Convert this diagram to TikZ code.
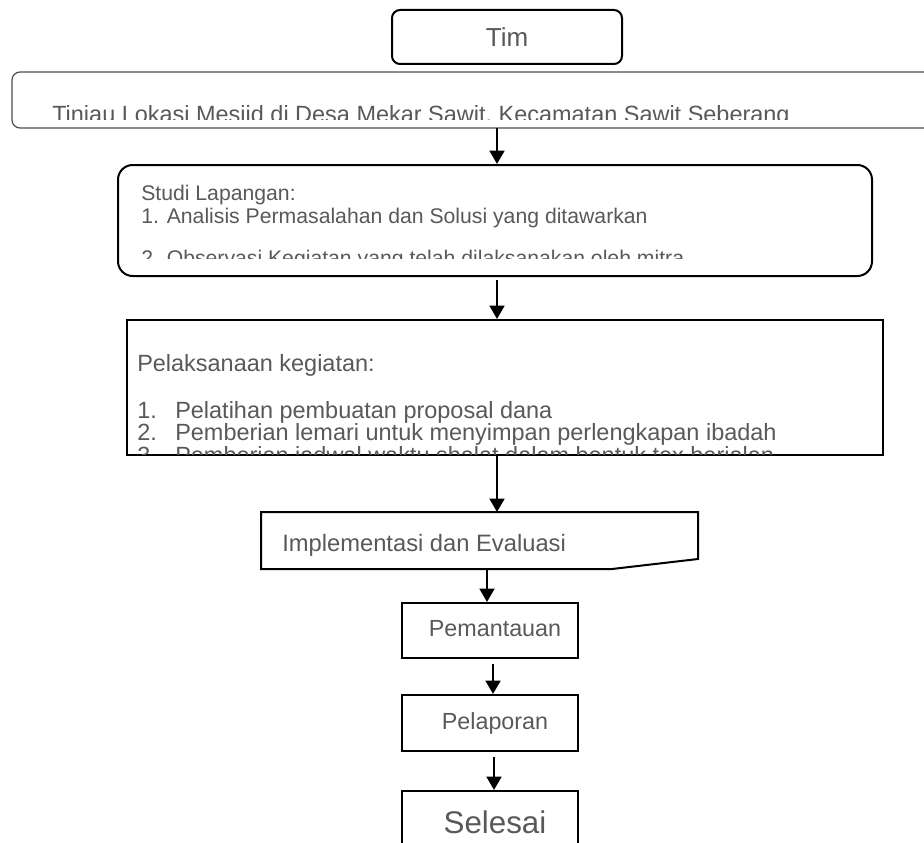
\documentclass[tikz,border=0pt]{standalone}
\usepackage{fontspec}
\setmainfont{Liberation Sans}
\usetikzlibrary{arrows.meta}
\definecolor{txt}{RGB}{89,89,89}
\tikzset{
  box/.style={draw=black, line width=1.5pt, inner sep=0pt, fill=none},
  thinbox/.style={draw=black!70, line width=0.9pt, inner sep=0pt},
  lbl/.style={text=txt, inner sep=0pt, anchor=base west},
  clbl/.style={text=txt, inner sep=0pt, anchor=base},
  arr/.style={line width=2pt, -{Triangle[width=11pt,length=10pt]}},
}
\newcommand{\fs}[1]{\fontsize{#1}{#1}\selectfont}
\begin{document}
\begin{tikzpicture}[x=0.75pt,y=-0.75pt]
\clip (0,0) rectangle (924,842);
\fill[white] (0,0) rectangle (924,842);
% Tim
\node[box, rounded corners=6pt, minimum width=172.5pt, minimum height=40.5pt, text=txt, font=\fs{19.5pt}] (tim) at (507,37) {Tim};
% Tinjau
\node[thinbox, rounded corners=6pt, minimum width=703.5pt, minimum height=42pt] (tinjau) at (481,100) {};
\begin{scope}
\clip (20,80) rectangle (920,119.5);
\node[lbl, font=\fs{17.6pt}] (tinjautxt) at (52,122.5) {Tinjau Lokasi Mesjid di Desa Mekar Sawit, Kecamatan Sawit Seberang};
\end{scope}
% Studi
\node[box, rounded corners=11pt, minimum width=565.5pt, minimum height=83.25pt] (studi) at (495,220.5) {};
\begin{scope}
\clip (125,170) rectangle (865,258);
\node[lbl, font=\fs{15.9pt}] (s0) at (141,200.7) {Studi Lapangan:};
\node[lbl, font=\fs{15.9pt}] (s1) at (141,223) {1. Analisis Permasalahan dan Solusi yang ditawarkan};
\node[lbl, font=\fs{15.9pt}] (s2) at (141,265.5) {2. Observasi Kegiatan yang telah dilaksanakan oleh mitra};
\end{scope}
% Pelaksanaan
\node[box, minimum width=567pt, minimum height=101.25pt] (pel) at (505,387.5) {};
\begin{scope}
\clip (130,325) rectangle (880,454);
\node[lbl, font=\fs{17.6pt}] (p0) at (137,371) {Pelaksanaan kegiatan:};
\node[lbl, font=\fs{17.6pt}] (p1n) at (137,418) {1.};
\node[lbl, font=\fs{17.6pt}] (p1) at (175,418) {Pelatihan pembuatan proposal dana};
\node[lbl, font=\fs{17.6pt}] (p2n) at (137,440.5) {2.};
\node[lbl, font=\fs{17.6pt}] (p2) at (175,440.5) {Pemberian lemari untuk menyimpan perlengkapan ibadah};
\node[lbl, font=\fs{17.6pt}] (p3n) at (137,463) {3.};
\node[lbl, font=\fs{17.6pt}] (p3) at (175,463) {Pemberian jadwal waktu shalat dalam bentuk tex berjalan};
\end{scope}
% Implementasi
\draw[line width=1.5pt] (261,512) -- (698,512) -- (698,559) -- (612,569) -- (261,569) -- cycle;
\coordinate (impN) at (497,512);
\coordinate (impS) at (487,569);
\node[lbl, font=\fs{17.8pt}] (imp) at (282,551.5) {Implementasi dan Evaluasi};
% Pemantauan, Pelaporan, Selesai
\node[box, minimum width=132pt, minimum height=41.25pt] (pem) at (490,630.5) {};
\node[clbl, font=\fs{17.5pt}] (pemtxt) at (495,636) {Pemantauan};
\node[box, minimum width=132pt, minimum height=42pt] (lap) at (490,723) {};
\node[clbl, font=\fs{17.5pt}] (laptxt) at (495,729) {Pelaporan};
\node[box, minimum width=132pt, minimum height=51.75pt] (sel) at (490,825.5) {};
\node[clbl, font=\fs{23.5pt}] (seltxt) at (495,833) {Selesai};
% arrows
\coordinate (a1) at (497,128);
\draw[arr] (a1) -- (studi.north -| a1);
\coordinate (a2) at (497,280);
\draw[arr] (a2) -- (pel.north -| a2);
\draw[arr] (pel.south -| impN) -- (impN);
\draw[arr] (impS) -- (pem.north -| impS);
\coordinate (a5) at (493,664);
\draw[arr] (a5) -- (lap.north -| a5);
\coordinate (a6) at (494,757);
\draw[arr] (a6) -- (sel.north -| a6);
\end{tikzpicture}
\end{document}
